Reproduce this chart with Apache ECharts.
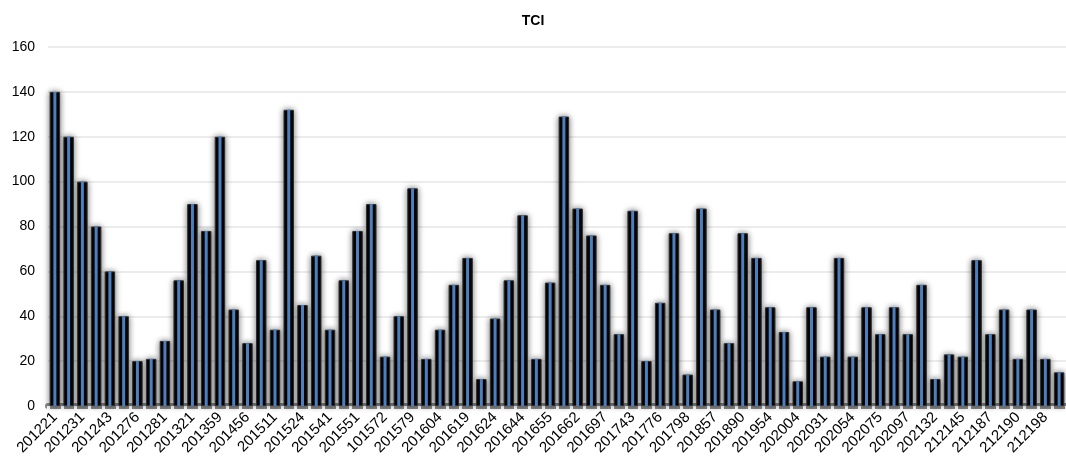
<!DOCTYPE html>
<html>
<head>
<meta charset="utf-8">
<script src="https://cdn.jsdelivr.net/npm/echarts@6/dist/echarts.min.js"></script>
<style>
  html, body { margin: 0; padding: 0; background: #fff; }
  #chart { width: 1066px; height: 470px; }
</style>
</head>
<body>
<div id="chart"></div>
<script>
// Period codes shown under every second bar
const tickLabels = [
  '201221', '201231', '201243', '201276', '201281', '201321', '201359', '201456',
  '201511', '201524', '201541', '201551', '101572', '201579', '201604', '201619',
  '201624', '201644', '201655', '201662', '201697', '201743', '201776', '201798',
  '201857', '201890', '201954', '202004', '202031', '202054', '202075', '202097',
  '202132', '212145', '212187', '212190', '212198'
];

// TCI value per period
const tciValues = [
  140, 120, 100, 80, 60, 40, 20, 21, 29, 56,
  90, 78, 120, 43, 28, 65, 34, 132, 45, 67,
  34, 56, 78, 90, 22, 40, 97, 21, 34, 54,
  66, 12, 39, 56, 85, 21, 55, 129, 88, 76,
  54, 32, 87, 20, 46, 77, 14, 88, 43, 28,
  77, 66, 44, 33, 11, 44, 22, 66, 22, 44,
  32, 44, 32, 54, 12, 23, 22, 65, 32, 43,
  21, 43, 21, 15
];

const yTicks = { min: 0, max: 160, interval: 20 };

// one category per bar; only even positions carry a printed code
const categories = tciValues.map((_, i) => (i % 2 === 0 && tickLabels[i / 2]) ? tickLabels[i / 2] : '');

const chart = echarts.init(document.getElementById('chart'), null, { renderer: 'canvas' });

const labelFont = { fontFamily: 'Liberation Sans', color: '#000' };

chart.setOption({
  animation: false,
  title: {
    text: 'TCI',
    left: 'center',
    top: 9,
    textStyle: { fontFamily: 'Liberation Sans', fontSize: 14, fontWeight: 'bold', color: '#000' }
  },
  grid: { left: 48, right: -8, top: 47, bottom: 64, containLabel: false },
  xAxis: [{
    type: 'category',
    data: categories,
    boundaryGap: true,
    axisLine: { show: true, lineStyle: { color: '#8a8a8a', width: 6 } },
    axisTick: { show: true, interval: 0, length: 4, lineStyle: { color: '#fff', width: 3 } },
    axisLabel: Object.assign({ interval: 0, rotate: 45, margin: 9, fontSize: 15 }, labelFont)
  }, {
    // twin axis so the centre stripe is centred on its own column
    type: 'category',
    data: categories,
    boundaryGap: true,
    show: false
  }],
  yAxis: {
    type: 'value',
    min: yTicks.min,
    max: yTicks.max,
    interval: yTicks.interval,
    axisLine: { show: false },
    axisTick: { show: false },
    axisLabel: Object.assign({ margin: 13, fontSize: 14 }, labelFont),
    splitLine: { lineStyle: { color: '#e6e6e6', width: 1.5 } }
  },
  series: [{
    type: 'bar',
    name: 'TCI',
    xAxisIndex: 0,
    data: tciValues,
    barWidth: '76%',
    itemStyle: {
      color: '#050505',
      borderColor: '#2e2e2e',
      borderWidth: 1,
      shadowBlur: 6,
      shadowColor: 'rgba(0,0,0,0.55)'
    }
  }, {
    type: 'bar',
    name: 'TCI stripe',
    xAxisIndex: 1,
    data: tciValues,
    barWidth: 3,
    z: 3,
    itemStyle: { color: '#4d7fbf' }
  }]
});
</script>
</body>
</html>
